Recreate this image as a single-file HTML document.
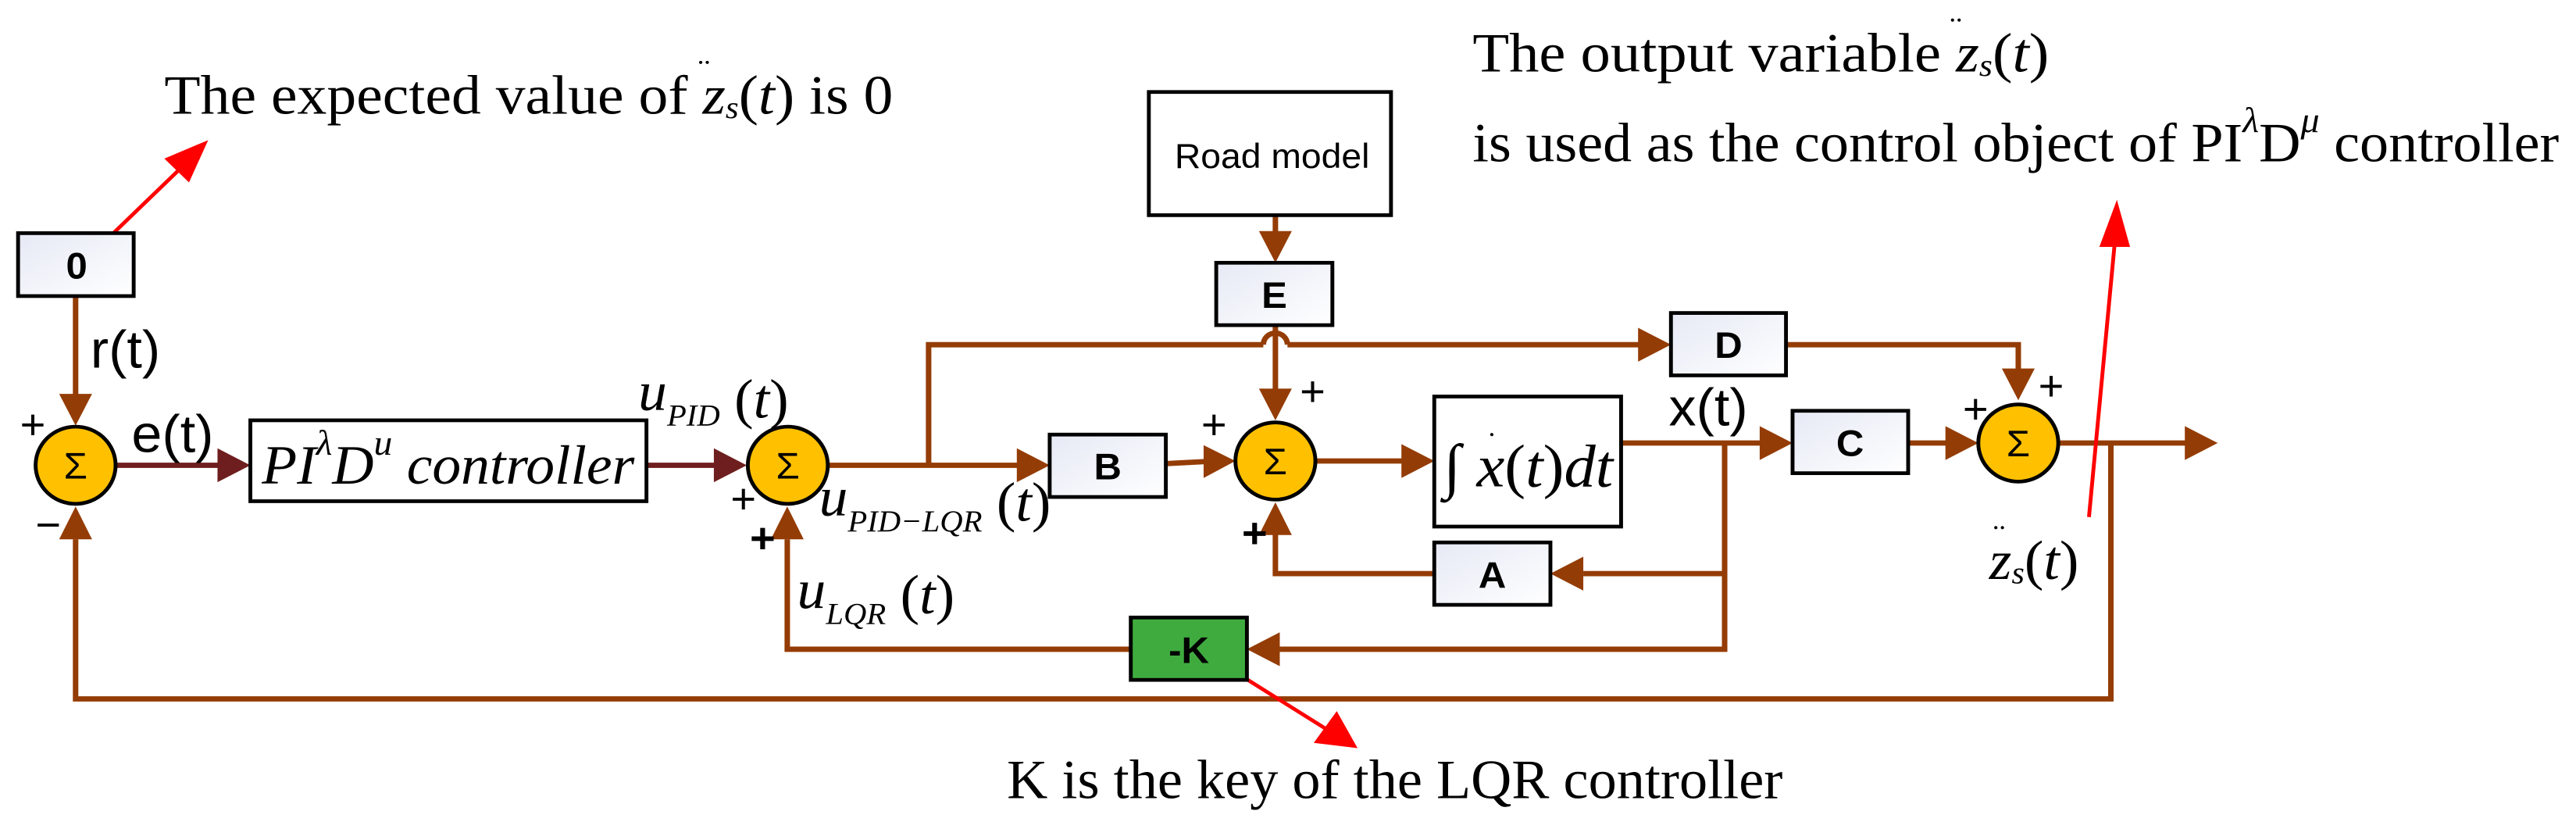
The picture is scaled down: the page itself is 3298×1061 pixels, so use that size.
<!DOCTYPE html>
<html><head><meta charset="utf-8"><style>
html,body{margin:0;padding:0;background:#fff;}
svg{display:block;}
.s{font-family:"Liberation Serif",serif;}
.a{font-family:"Liberation Sans",sans-serif;}
</style></head><body>
<svg width="3298" height="1061" viewBox="0 0 4702 1568" preserveAspectRatio="none" xmlns="http://www.w3.org/2000/svg">
<defs>
<linearGradient id="g" x1="0" y1="0" x2="1" y2="1"><stop offset="0" stop-color="#e6e9f5"/><stop offset="1" stop-color="#ffffff"/></linearGradient>
</defs>
<g stroke="#943c05" stroke-width="10" fill="none">
<line x1="138" y1="560" x2="138" y2="750"/>
<polyline points="3853,838 3853,1322 138,1322 138,1020"/>
<polyline points="2064,1228 1437,1228 1437,1020"/>
<line x1="1513" y1="880" x2="1860" y2="880"/>
<polyline points="1695,880 1695,652 2306,652"/>
<path d="M2306,652 A22,22 0 0 1 2350,652"/>
<line x1="2350" y1="652" x2="2995" y2="652"/>
<line x1="2328" y1="407" x2="2328" y2="440"/>
<line x1="2328" y1="615" x2="2328" y2="740"/>
<line x1="2128" y1="877" x2="2200" y2="873"/>
<line x1="2403" y1="872" x2="2562" y2="872"/>
<line x1="2959" y1="838" x2="3215" y2="838"/>
<polyline points="3148,838 3148,1228 2336,1228"/>
<line x1="3148" y1="1085" x2="2890" y2="1085"/>
<polyline points="2618,1085 2328,1085 2328,1010"/>
<polyline points="3260,652 3684,652 3684,700"/>
<line x1="3483" y1="838" x2="3555" y2="838"/>
<line x1="3757" y1="838" x2="3990" y2="838"/>
</g>
<g stroke="#6e1e1e" stroke-width="10">
<line x1="213" y1="880" x2="400" y2="880"/>
<line x1="1180" y1="880" x2="1308" y2="880"/>
</g>
<g fill="#6e1e1e">
<polygon points="397,848 397,912 457,880"/>
<polygon points="1303,848 1303,912 1363,880"/>
</g>
<g fill="#943c05">
<polygon points="108,745 168,745 138,805"/>
<polygon points="108,1020 168,1020 138,958"/>
<polygon points="1407,1020 1467,1020 1437,958"/>
<polygon points="1856,848 1856,912 1916,880"/>
<polygon points="2990,620 2990,684 3050,652"/>
<polygon points="2298,437 2358,437 2328,497"/>
<polygon points="2298,735 2358,735 2328,795"/>
<polygon points="2197,842 2197,904 2255,872"/>
<polygon points="2558,840 2558,904 2618,872"/>
<polygon points="2298,1012 2358,1012 2328,950"/>
<polygon points="2890,1053 2890,1117 2830,1085"/>
<polygon points="2336,1196 2336,1260 2276,1228"/>
<polygon points="3212,806 3212,870 3272,838"/>
<polygon points="3551,806 3551,870 3611,838"/>
<polygon points="3654,697 3714,697 3684,757"/>
<polygon points="3988,806 3988,870 4048,838"/>
</g>
<g stroke="#ff0000" stroke-width="7" fill="#ff0000">
<line x1="207" y1="441" x2="330" y2="318"/>
<polygon stroke="none" points="380,265 300,300 345,345"/>
<line x1="2273" y1="1283" x2="2430" y2="1385"/>
<polygon stroke="none" points="2478,1415 2398,1405 2440,1345"/>
<line x1="3813" y1="978" x2="3860" y2="460"/>
<polygon stroke="none" points="3864,378 3832,467 3888,467"/>
</g>
<g stroke="#000" stroke-width="7">
<rect x="33" y="441" width="211" height="119" fill="url(#g)"/>
<rect x="457" y="795" width="723" height="153" fill="#fff"/>
<rect x="2097" y="174" width="442" height="233" fill="#fff"/>
<rect x="2220" y="497" width="212" height="118" fill="url(#g)"/>
<rect x="1916" y="822" width="212" height="118" fill="url(#g)"/>
<rect x="2618" y="750" width="341" height="246" fill="#fff"/>
<rect x="3050" y="592" width="210" height="118" fill="url(#g)"/>
<rect x="2618" y="1026" width="212" height="118" fill="url(#g)"/>
<rect x="2064" y="1168" width="212" height="118" fill="#3fab3f"/>
<rect x="3272" y="777" width="211" height="118" fill="url(#g)"/>
<circle cx="138" cy="880" r="73" fill="#ffc000"/>
<circle cx="1438" cy="880" r="73" fill="#ffc000"/>
<circle cx="2328" cy="872" r="73" fill="#ffc000"/>
<circle cx="3684" cy="838" r="73" fill="#ffc000"/>
</g>
<g class="a" font-weight="bold" font-size="70" text-anchor="middle" fill="#000">
<text x="140" y="527">0</text>
<text x="2326" y="582">E</text>
<text x="2022" y="907">B</text>
<text x="3155" y="677">D</text>
<text x="2724" y="1112">A</text>
<text x="2170" y="1254">-K</text>
<text x="3377" y="862">C</text>
</g>
<g class="a" font-size="70" text-anchor="middle" fill="#000">
<text x="138" y="905">Σ</text>
<text x="1438" y="905">Σ</text>
<text x="2328" y="897">Σ</text>
<text x="3684" y="863">Σ</text>
<text x="2322" y="318" font-size="66">Road model</text>
</g>
<g class="a" font-size="80" fill="#000" text-anchor="middle">
<text x="60" y="830">+</text>
<text x="88" y="1020">−</text>
<text x="1357" y="970">+</text>
<text x="1392" y="1045" font-weight="bold">+</text>
<text x="2396" y="767">+</text>
<text x="2216" y="830">+</text>
<text x="2290" y="1035" font-weight="bold">+</text>
<text x="3744" y="757">+</text>
<text x="3606" y="800">+</text>
</g>
<g class="a" font-size="100" fill="#000">
<text x="165" y="695">r(t)</text>
<text x="240" y="855">e(t)</text>
<text x="3046" y="805">x(t)</text>
</g>
<g class="s" font-style="italic" fill="#000">
<text x="478" y="915" font-size="105" textLength="680" lengthAdjust="spacingAndGlyphs">PI<tspan font-size="68" dy="-55">λ</tspan><tspan dy="55">D</tspan><tspan font-size="68" dy="-55">u</tspan><tspan dy="55">  controller</tspan></text>
<text x="1165" y="775" font-size="105">u<tspan font-size="58" dy="30">PID</tspan><tspan font-style="normal" font-size="105" dy="-15"> (</tspan><tspan>t</tspan><tspan font-style="normal">)</tspan></text>
<text x="1495" y="975" font-size="105">u<tspan font-size="58" dy="30">PID−LQR</tspan><tspan font-style="normal" dy="-20"> (</tspan><tspan>t</tspan><tspan font-style="normal">)</tspan></text>
<text x="1455" y="1150" font-size="105">u<tspan font-size="58" dy="30">LQR</tspan><tspan font-style="normal" dy="-20"> (</tspan><tspan>t</tspan><tspan font-style="normal">)</tspan></text>
<text x="2635" y="920" font-size="115"><tspan font-style="normal">∫</tspan> x<tspan font-style="normal">(</tspan>t<tspan font-style="normal">)</tspan>dt</text>
<text x="3631" y="1095" font-size="105">z<tspan font-size="60" dy="8">s</tspan><tspan font-style="normal" dy="-8">(</tspan>t<tspan font-style="normal">)</tspan></text>
</g>
<g fill="#000">
<circle cx="2723" cy="822" r="3"/>
<circle cx="3643" cy="998" r="3"/><circle cx="3655" cy="998" r="3"/>
<circle cx="1279" cy="118" r="3"/><circle cx="1291" cy="118" r="3"/>
<circle cx="3564" cy="38" r="3"/><circle cx="3576" cy="38" r="3"/>
</g>
<g class="s" font-size="105" fill="#000">
<text x="300" y="215" textLength="1330" lengthAdjust="spacingAndGlyphs">The expected value of <tspan font-style="italic">z</tspan><tspan font-style="italic" font-size="60" dy="8">s</tspan><tspan dy="-8">(</tspan><tspan font-style="italic">t</tspan>) is 0</text>
<text x="2688" y="135" textLength="1052" lengthAdjust="spacingAndGlyphs">The output variable <tspan font-style="italic">z</tspan><tspan font-style="italic" font-size="60" dy="8">s</tspan><tspan dy="-8">(</tspan><tspan font-style="italic">t</tspan>)</text>
<text x="2688" y="305" textLength="1983" lengthAdjust="spacingAndGlyphs">is used as the control object of PI<tspan font-style="italic" font-size="68" dy="-55">λ</tspan><tspan dy="55">D</tspan><tspan font-style="italic" font-size="68" dy="-55">μ</tspan><tspan dy="55">  controller</tspan></text>
<text x="1838" y="1510" textLength="1416" lengthAdjust="spacingAndGlyphs">K is the key of the LQR controller</text>
</g>
</svg>
</body></html>
